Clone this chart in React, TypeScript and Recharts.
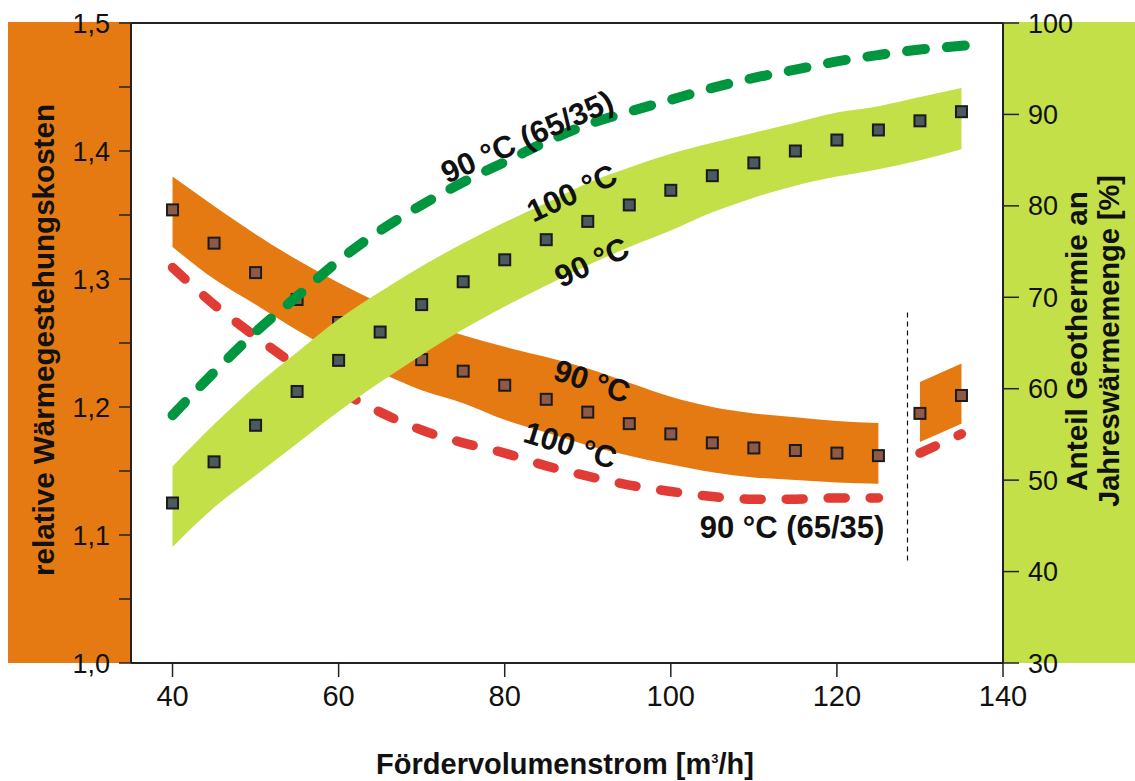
import { Area, ComposedChart, Line, ReferenceLine, Scatter, XAxis, YAxis } from 'recharts'

// Fördervolumenstrom [m³/h]
const flowRates = [40, 45, 50, 55, 60, 65, 70, 75, 80, 85, 90, 95, 100, 105, 110, 115, 120, 125, 130, 135]

// relative Wärmegestehungskosten (left axis)
const costMean = [1.354, 1.328, 1.305, 1.284, 1.266, 1.25, 1.237, 1.228, 1.217, 1.206, 1.196, 1.187, 1.179, 1.172, 1.168, 1.166, 1.164, 1.162, 1.195, 1.209]
const costHigh = [1.38, 1.357, 1.335, 1.315, 1.297, 1.281, 1.267, 1.256, 1.247, 1.239, 1.23, 1.219, 1.208, 1.2, 1.195, 1.192, 1.189, 1.1875, 1.2195, 1.234]
const costLow = [1.325, 1.3, 1.28, 1.26, 1.242, 1.227, 1.213, 1.203, 1.19, 1.18, 1.17, 1.162, 1.155, 1.149, 1.145, 1.143, 1.141, 1.14, 1.1727, 1.187]
const cost6535 = [1.309, 1.28, 1.255, 1.232, 1.213, 1.196, 1.182, 1.172, 1.164, 1.154, 1.146, 1.139, 1.134, 1.13, 1.128, 1.128, 1.129, 1.129, 1.164, 1.179]

// Anteil Geothermie an Jahreswärmemenge [%] (right axis)
const shareMean = [47.5, 52.0, 56.0, 59.7, 63.1, 66.2, 69.2, 71.7, 74.1, 76.3, 78.3, 80.1, 81.7, 83.3, 84.7, 86.0, 87.2, 88.3, 89.3, 90.3]
const shareHigh = [51.5, 56.1, 60.3, 64.0, 67.6, 70.6, 73.4, 75.9, 78.2, 80.3, 82.5, 84.2, 85.7, 86.9, 88.0, 89.1, 90.2, 90.9, 91.9, 92.9]
const shareLow = [42.7, 47.0, 50.5, 54.0, 57.5, 60.7, 63.7, 66.5, 69.0, 71.3, 73.5, 75.5, 77.3, 79.3, 80.9, 82.2, 83.2, 84.0, 85.0, 86.2]
const share6535 = [57.1, 61.8, 66.2, 70.1, 74.0, 77.3, 80.1, 82.6, 84.8, 87.0, 88.9, 90.3, 91.6, 92.9, 94.0, 94.9, 95.8, 96.5, 97.1, 97.5]
const share6535EndFlow = 137.5
const share6535End = 97.7

const costTicks = [1.0, 1.05, 1.1, 1.15, 1.2, 1.25, 1.3, 1.35, 1.4, 1.45, 1.5]
const shareTicks = [30, 40, 50, 60, 70, 80, 90, 100]
const flowTicks = [40, 60, 80, 100, 120, 140]

// points right of this flow belong to the second configuration
const splitFlow = 128.5

const ORANGE = '#e67a12'
const LIME = '#c3e048'
const GREEN = '#009640'
const RED = '#e03c35'
const INK = '#1b1b1b'
const FONT = '"Liberation Sans", Arial, sans-serif'
const TITLE_FONT = '"Liberation Sans Narrow", "Liberation Sans", Arial, sans-serif'

const rows: any[] = flowRates.map((x, i) => {
  const main = x < splitFlow
  return {
    x,
    costBandMain: main ? [costLow[i], costHigh[i]] : undefined,
    costBandTail: main ? undefined : [costLow[i], costHigh[i]],
    costLineMain: main ? cost6535[i] : undefined,
    costLineTail: main ? undefined : cost6535[i],
    shareBand: [shareLow[i], shareHigh[i]],
    shareLine: share6535[i],
  }
})
rows.push({ x: share6535EndFlow, shareLine: share6535End })

const costPoints = flowRates.map((x, i) => ({ x, v: costMean[i] }))
const sharePoints = flowRates.map((x, i) => ({ x, v: shareMean[i] }))

// curve captions, anchored in flow / cost units
const curveLabels = [
  { x: 82.7, v: 1.411, angle: -24, text: '90 °C (65/35)' },
  { x: 88.1, v: 1.367, angle: -25, text: '100 °C' },
  { x: 90.5, v: 1.313, angle: -25, text: '90 °C' },
  { x: 90.5, v: 1.22, angle: 18, text: '90 °C' },
  { x: 87.9, v: 1.17, angle: 17, text: '100 °C' },
  { x: 114.6, v: 1.106, angle: 0, text: '90 °C (65/35)' },
]

const square = (fill: string) => (p: any) => (
  <rect x={p.cx - 5.5} y={p.cy - 5.5} width={11} height={11} fill={fill} stroke={INK} strokeWidth={2} />
)

const caption = (p: any) => {
  const { cx, cy, payload } = p
  return (
    <text
      x={cx}
      y={cy}
      transform={`rotate(${payload.angle} ${cx} ${cy})`}
      textAnchor="middle"
      dominantBaseline="central"
      fontFamily={FONT}
      fontWeight="bold"
      fontSize={31}
      fill="#111"
    >
      {payload.text}
    </text>
  )
}

const costTitle = (p: any) => {
  const vb = p.viewBox ?? { x: 0, y: 23, width: 131, height: 640 }
  const cx = vb.x + 43
  const cy = vb.y + vb.height / 2 - 3
  return (
    <text
      x={cx}
      y={cy}
      transform={`rotate(-90 ${cx} ${cy})`}
      textAnchor="middle"
      dominantBaseline="central"
      fontFamily={TITLE_FONT}
      fontWeight="bold"
      fontSize={30}
      textLength={472}
      lengthAdjust="spacingAndGlyphs"
      fill="#111"
    >
      relative Wärmegestehungskosten
    </text>
  )
}

const shareTitle = (p: any) => {
  const vb = p.viewBox ?? { x: 1003, y: 23, width: 132, height: 640 }
  const cy = vb.y + vb.height / 2 - 2
  const lines = [
    { dx: 74, text: 'Anteil Geothermie an', len: 300 },
    { dx: 106, text: 'Jahreswärmemenge [%]', len: 332 },
  ]
  return (
    <g>
      {lines.map((l) => (
        <text
          key={l.text}
          x={vb.x + l.dx}
          y={cy}
          transform={`rotate(-90 ${vb.x + l.dx} ${cy})`}
          textAnchor="middle"
          dominantBaseline="central"
          fontFamily={TITLE_FONT}
          fontWeight="bold"
          fontSize={29}
          textLength={l.len}
          lengthAdjust="spacingAndGlyphs"
          fill="#111"
        >
          {l.text}
        </text>
      ))}
    </g>
  )
}

const flowTitle = (p: any) => {
  const vb = p.viewBox ?? { x: 131, y: 663, width: 872, height: 118 }
  return (
    <text
      x={vb.x + vb.width / 2 - 2}
      y={vb.y + 111}
      textAnchor="middle"
      fontFamily={TITLE_FONT}
      fontWeight="bold"
      fontSize={29}
      fill="#111"
    >
      Fördervolumenstrom [m
      <tspan dy={-11} fontSize={13}>3</tspan>
      <tspan dy={11}>/h]</tspan>
    </text>
  )
}

const formatCost = (v: number) =>
  Math.round(v * 100) % 10 === 0 ? v.toFixed(1).replace('.', ',') : ''

const axisStroke = { stroke: '#222', strokeWidth: 2 }
const tickStroke = { stroke: '#222', strokeWidth: 1.5 }
const tickText = { fill: '#111', fontFamily: FONT }

// Both layers share identical axes so their plot areas line up; only the
// top layer actually draws them.
function axes(show: boolean) {
  return [
    <XAxis
      key="flow"
      dataKey="x"
      type="number"
      domain={[35, 140]}
      ticks={flowTicks}
      interval={0}
      height={118}
      tickSize={14}
      tickMargin={8}
      axisLine={show ? axisStroke : false}
      tickLine={show ? tickStroke : false}
      tick={show ? { ...tickText, fontSize: 29 } : false}
      label={show ? { content: flowTitle } : undefined}
    />,
    <YAxis
      key="cost"
      yAxisId="cost"
      domain={[1, 1.5]}
      ticks={costTicks}
      interval={0}
      allowDataOverflow
      width={131}
      tickSize={12}
      tickMargin={9}
      tickFormatter={formatCost}
      axisLine={show ? axisStroke : false}
      tickLine={show ? tickStroke : false}
      tick={show ? { ...tickText, fontSize: 27 } : false}
      label={show ? { content: costTitle } : undefined}
    />,
    <YAxis
      key="share"
      yAxisId="share"
      orientation="right"
      domain={[30, 100]}
      ticks={shareTicks}
      interval={0}
      allowDataOverflow
      width={132}
      tickSize={16}
      tickMargin={9}
      axisLine={show ? axisStroke : false}
      tickLine={show ? tickStroke : false}
      tick={show ? { ...tickText, fontSize: 27 } : false}
      label={show ? { content: shareTitle } : undefined}
    />,
  ]
}

const layer: any = { position: 'absolute', left: 0, top: 0 }
const chartProps = { width: 1135, height: 781, data: rows, margin: { top: 23, right: 0, bottom: 0, left: 0 } }

export default function App() {
  return (
    <div style={{ position: 'absolute', left: 0, top: 0, width: 1135, height: 781, background: '#fff' }}>
      <div style={{ position: 'absolute', left: 8, top: 22, width: 123, height: 641, background: ORANGE }} />
      <div style={{ position: 'absolute', left: 1003, top: 22, width: 132, height: 641, background: LIME }} />

      {/* cost layer: orange band, its squares, red 65/35 curve */}
      <div style={layer}>
        <ComposedChart {...chartProps}>
          {axes(false)}
          <Area yAxisId="cost" dataKey="costBandMain" type="monotone" fill={ORANGE} fillOpacity={1} stroke="none" isAnimationActive={false} />
          <Area yAxisId="cost" dataKey="costBandTail" type="linear" fill={ORANGE} fillOpacity={1} stroke="none" isAnimationActive={false} />
          <Line yAxisId="cost" dataKey="costLineMain" type="monotone" stroke={RED} strokeWidth={9.5} strokeDasharray="17 25" strokeLinecap="round" dot={false} activeDot={false} isAnimationActive={false} />
          <Line yAxisId="cost" dataKey="costLineTail" type="linear" stroke={RED} strokeWidth={9.5} strokeDasharray="17 25" strokeLinecap="round" dot={false} activeDot={false} isAnimationActive={false} />
          <Scatter yAxisId="cost" data={costPoints} dataKey="v" shape={square('#8c5a47')} isAnimationActive={false} />
        </ComposedChart>
      </div>

      {/* share layer on top: lime band, its squares, green 65/35 curve, captions, axes */}
      <div style={layer}>
        <ComposedChart {...chartProps}>
          {axes(true)}
          <ReferenceLine yAxisId="cost" y={1.5} stroke="#222" strokeWidth={2} />
          <ReferenceLine
            yAxisId="cost"
            segment={[{ x: splitFlow, y: 1.08 }, { x: splitFlow, y: 1.277 }]}
            stroke="#111"
            strokeWidth={1.2}
            strokeDasharray="5 4"
          />
          <Area yAxisId="share" dataKey="shareBand" type="monotone" fill={LIME} fillOpacity={1} stroke="none" isAnimationActive={false} />
          <Line yAxisId="share" dataKey="shareLine" type="monotone" stroke={GREEN} strokeWidth={10} strokeDasharray="18 22" strokeLinecap="round" dot={false} activeDot={false} isAnimationActive={false} />
          <Scatter yAxisId="share" data={sharePoints} dataKey="v" shape={square('#4a5a5e')} isAnimationActive={false} />
          <Scatter yAxisId="cost" data={curveLabels} dataKey="v" shape={caption} isAnimationActive={false} />
        </ComposedChart>
      </div>
    </div>
  )
}
